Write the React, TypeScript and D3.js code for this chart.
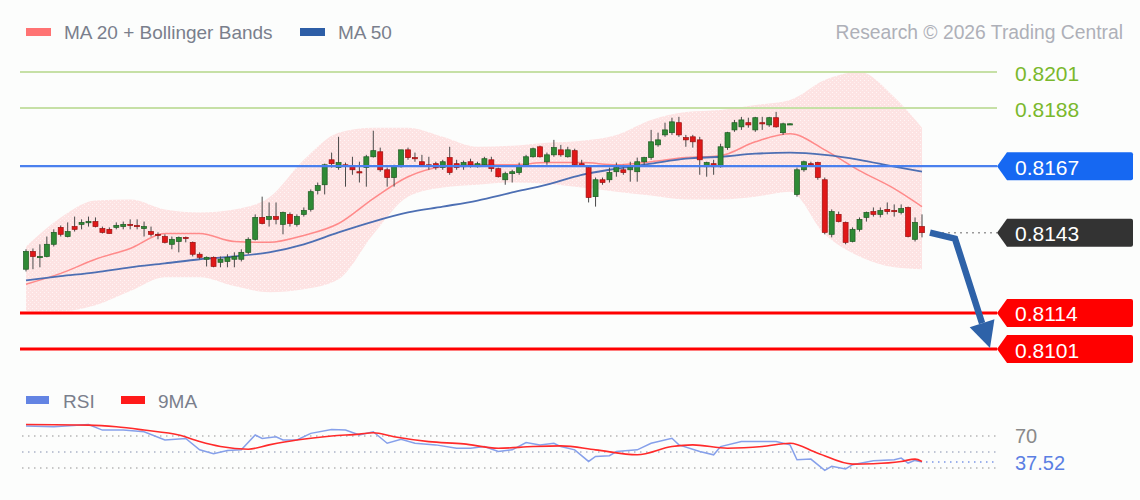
import React from 'react';
import * as d3 from 'd3';

const W = 1140;
const H = 500;

// ---- candle data (index = bar number) ----
const opens = [
  0.81298,0.81362,0.81341,0.81344,0.81388,0.81449,0.81416,0.81452,0.81460,0.81467,
  0.81470,0.81445,0.81442,0.81449,0.81452,0.81460,0.81456,0.81445,0.81434,0.81424,
  0.81416,0.81388,0.81398,0.81413,0.81395,0.81352,0.81334,0.81341,0.81323,0.81326,
  0.81334,0.81334,0.81359,0.81406,0.81485,0.81478,0.81488,0.81460,0.81496,0.81460,
  0.81496,0.81514,0.81582,0.81603,0.81693,0.81665,0.81675,0.81668,0.81650,0.81665,
  0.81704,0.81722,0.81657,0.81629,0.81668,0.81729,0.81701,0.81686,0.81675,0.81679,
  0.81665,0.81701,0.81679,0.81668,0.81686,0.81668,0.81675,0.81693,0.81661,0.81621,
  0.81643,0.81647,0.81675,0.81704,0.81740,0.81686,0.81711,0.81729,0.81704,0.81726,
  0.81679,0.81665,0.81560,0.81621,0.81621,0.81650,0.81657,0.81657,0.81650,0.81686,
  0.81701,0.81747,0.81783,0.81791,0.81827,0.81773,0.81776,0.81765,0.81668,0.81679,
  0.81668,0.81737,0.81801,0.81812,0.81827,0.81801,0.81827,0.81819,0.81845,0.81791,
  0.81823,0.81568,0.81657,0.81679,0.81683,0.81621,0.81424,0.81496,0.81467,0.81398,
  0.81442,0.81485,0.81506,0.81496,0.81514,0.81510,0.81503,0.81521,0.81406,0.81452,
];
const highs = [
  0.81370,0.81373,0.81388,0.81416,0.81442,0.81456,0.81467,0.81488,0.81478,0.81488,
  0.81485,0.81452,0.81449,0.81467,0.81470,0.81478,0.81478,0.81470,0.81452,0.81431,
  0.81424,0.81416,0.81416,0.81416,0.81398,0.81359,0.81344,0.81344,0.81344,0.81352,
  0.81359,0.81370,0.81413,0.81496,0.81560,0.81539,0.81539,0.81506,0.81503,0.81496,
  0.81521,0.81586,0.81611,0.81679,0.81719,0.81776,0.81683,0.81704,0.81686,0.81711,
  0.81798,0.81737,0.81665,0.81675,0.81729,0.81737,0.81719,0.81711,0.81704,0.81686,
  0.81693,0.81740,0.81693,0.81690,0.81697,0.81686,0.81704,0.81704,0.81665,0.81650,
  0.81657,0.81683,0.81711,0.81737,0.81744,0.81719,0.81765,0.81747,0.81740,0.81733,
  0.81693,0.81668,0.81629,0.81629,0.81665,0.81683,0.81675,0.81686,0.81701,0.81704,
  0.81801,0.81791,0.81827,0.81845,0.81848,0.81783,0.81783,0.81776,0.81686,0.81693,
  0.81751,0.81794,0.81837,0.81848,0.81845,0.81848,0.81848,0.81848,0.81866,0.81827,
  0.81825,0.81665,0.81690,0.81686,0.81686,0.81629,0.81514,0.81506,0.81470,0.81449,
  0.81485,0.81506,0.81521,0.81521,0.81539,0.81532,0.81532,0.81524,0.81485,0.81496,
];
const lows = [
  0.81290,0.81298,0.81305,0.81341,0.81380,0.81416,0.81413,0.81434,0.81442,0.81452,
  0.81449,0.81427,0.81427,0.81442,0.81442,0.81442,0.81442,0.81416,0.81416,0.81406,
  0.81391,0.81370,0.81359,0.81395,0.81344,0.81334,0.81308,0.81305,0.81305,0.81305,
  0.81305,0.81326,0.81352,0.81402,0.81460,0.81452,0.81460,0.81424,0.81452,0.81452,
  0.81488,0.81506,0.81568,0.81568,0.81665,0.81657,0.81596,0.81639,0.81611,0.81596,
  0.81701,0.81650,0.81596,0.81596,0.81665,0.81693,0.81686,0.81668,0.81657,0.81657,
  0.81657,0.81639,0.81657,0.81657,0.81665,0.81665,0.81668,0.81650,0.81629,0.81603,
  0.81611,0.81639,0.81668,0.81701,0.81701,0.81675,0.81704,0.81704,0.81701,0.81668,
  0.81668,0.81539,0.81524,0.81603,0.81611,0.81632,0.81639,0.81614,0.81614,0.81675,
  0.81693,0.81740,0.81776,0.81783,0.81776,0.81740,0.81737,0.81639,0.81632,0.81639,
  0.81665,0.81729,0.81794,0.81801,0.81809,0.81794,0.81801,0.81812,0.81809,0.81783,
  0.81821,0.81560,0.81650,0.81668,0.81621,0.81424,0.81413,0.81467,0.81388,0.81395,
  0.81434,0.81470,0.81488,0.81485,0.81496,0.81488,0.81496,0.81413,0.81398,0.81413,
];
const closes = [
  0.81362,0.81344,0.81344,0.81388,0.81431,0.81424,0.81434,0.81442,0.81467,0.81470,
  0.81452,0.81431,0.81427,0.81456,0.81460,0.81458,0.81455,0.81452,0.81424,0.81422,
  0.81395,0.81406,0.81413,0.81411,0.81352,0.81341,0.81341,0.81308,0.81334,0.81341,
  0.81344,0.81359,0.81406,0.81485,0.81463,0.81488,0.81478,0.81503,0.81463,0.81488,
  0.81510,0.81578,0.81600,0.81675,0.81679,0.81683,0.81672,0.81657,0.81648,0.81704,
  0.81726,0.81657,0.81629,0.81668,0.81729,0.81701,0.81699,0.81675,0.81673,0.81665,
  0.81686,0.81647,0.81665,0.81683,0.81675,0.81679,0.81697,0.81661,0.81632,0.81643,
  0.81650,0.81668,0.81704,0.81733,0.81704,0.81711,0.81737,0.81711,0.81729,0.81675,
  0.81672,0.81557,0.81621,0.81611,0.81647,0.81665,0.81647,0.81665,0.81686,0.81701,
  0.81758,0.81765,0.81801,0.81830,0.81783,0.81765,0.81758,0.81693,0.81683,0.81668,
  0.81740,0.81791,0.81827,0.81837,0.81819,0.81845,0.81823,0.81845,0.81812,0.81823,
  0.81823,0.81657,0.81686,0.81677,0.81629,0.81431,0.81506,0.81470,0.81395,0.81442,
  0.81478,0.81503,0.81496,0.81510,0.81506,0.81508,0.81517,0.81416,0.81467,0.81430,
];

// ---- indicator samples (bar index -> value) ----
const bandIdx = [0,5,10,15,20,25,30,35,40,45,50,55,60,65,70,75,80,85,90,95,100,105,110,115,120,125,129];
const ma20Vals = [0.81244,0.81283,0.81334,0.81373,0.81427,0.81427,0.81398,0.81395,0.81420,0.81463,0.81553,0.81632,0.81668,0.81675,0.81675,0.81683,0.81683,0.81675,0.81686,0.81701,0.81708,0.81758,0.81787,0.81729,0.81654,0.81589,0.81524];
const ma50Vals = [0.81258,0.81273,0.81287,0.81305,0.81319,0.81334,0.81344,0.81359,0.81388,0.81431,0.81470,0.81503,0.81524,0.81546,0.81575,0.81603,0.81639,0.81661,0.81679,0.81697,0.81704,0.81715,0.81719,0.81711,0.81693,0.81668,0.81650];
const upperVals = [0.81380,0.81485,0.81546,0.81550,0.81514,0.81503,0.81514,0.81557,0.81693,0.81791,0.81809,0.81809,0.81776,0.81740,0.81744,0.81755,0.81762,0.81783,0.81837,0.81866,0.81873,0.81891,0.81909,0.81981,0.82010,0.81920,0.81809];
const lowerVals = [0.81147,0.81147,0.81168,0.81219,0.81269,0.81269,0.81237,0.81215,0.81226,0.81262,0.81424,0.81560,0.81593,0.81603,0.81611,0.81607,0.81593,0.81578,0.81564,0.81550,0.81550,0.81560,0.81578,0.81424,0.81344,0.81305,0.81298];

const rsiIdx = [0,4,9,11,14,17,20,23,25,27,29,31,33,34,36,37,39,41,44,46,48,50,52,54,56,59,62,64,66,68,70,72,74,76,77,79,81,82,84,85,88,90,93,94,97,99,100,103,105,108,110,111,113,115,116,118,119,122,125,126,127,128,129];
const rsiVals = [82.4,81.5,84.4,77.4,77.4,75.3,65,67,52.7,47.7,51.8,52.7,71.2,67,69,65,65,73.3,78.2,77.4,71.2,75.3,60.9,65.9,60.9,58.9,54.7,54.7,56.8,50.6,52.7,61.8,58.9,60.9,56.8,52.7,38.2,44.4,45.3,50.6,52.7,60.9,67.1,58.9,50.6,46.5,56.8,63,63,63,58.9,40.3,41.1,27.1,32.1,28.8,34.1,39.1,40.3,42.4,36.2,39.5,37.52];
const ma9Idx = [0,9,13,17,22,25,28,32,35,39,44,48,50,53,58,63,68,73,77,82,88,93,96,101,106,110,114,119,122,126,128,129];
const ma9Vals = [84.4,83.6,81.5,77.4,71.2,63,56.8,53.5,58.9,65,70,72.4,74.1,69.1,63,60.1,54.7,56.8,57.6,52.7,46.5,56.8,58.9,54.7,56.8,60.9,48.5,34.9,35.4,38.2,41.1,38.2];

// ---- key levels ----
const resistLevels = [0.8201, 0.8188];
const pivotLevel = 0.8167;
const lastPrice = 0.8143;
const supportLevels = [0.8114, 0.8101];
const rsiGuides = [70, 50, 30];
const rsiLast = 37.52;

const FONT = '"Liberation Sans", Arial, Helvetica, sans-serif';

function LabelBox({ tip, cy, right, fill, text }: { tip: number; cy: number; right: number; fill: string; text: string }) {
  const h = 14;
  const d = `M${tip},${cy} L${tip + 10},${cy - h} L${right - 2},${cy - h} Q${right},${cy - h} ${right},${cy - h + 2} L${right},${cy + h - 2} Q${right},${cy + h} ${right - 2},${cy + h} L${tip + 10},${cy + h} Z`;
  return (
    <g>
      <path d={d} fill={fill} />
      <text x={tip + 18} y={cy + 1} fill="#fff" fontSize={21} fontFamily={FONT} dominantBaseline="central">{text}</text>
    </g>
  );
}

export default function App() {
  const n = closes.length;
  const x = d3.scaleLinear().domain([0, n - 1]).range([26, 922]);
  const y = d3.scaleLinear().domain([0.8101, 0.8201]).range([349, 72]);
  const ry = d3.scaleLinear().domain([30, 70]).range([468, 436]);

  const bandArea = d3.area<number>()
    .x((_, i) => x(bandIdx[i]))
    .y0((_, i) => y(lowerVals[i]))
    .y1((_, i) => y(upperVals[i]))
    .curve(d3.curveMonotoneX);
  const lineOf = (vals: number[]) => d3.line<number>()
    .x((_, i) => x(bandIdx[i]))
    .y((v) => y(v))
    .curve(d3.curveMonotoneX)(vals) as string;

  const rsiPath = d3.line<number>().x((_, i) => x(rsiIdx[i])).y((v) => ry(v))(rsiVals) as string;
  const ma9Path = d3.line<number>().x((_, i) => x(ma9Idx[i])).y((v) => ry(v)).curve(d3.curveMonotoneX)(ma9Vals) as string;

  const lineStart = 20;
  const tipX = 997;
  const boxRight = 1133;

  const lastX = x(n - 1);
  const lastY = y(closes[n - 1]);
  const aStart: [number, number] = [lastX + 8, lastY];
  const aMid: [number, number] = [lastX + 33, lastY + 6];
  const aTip: [number, number] = [lastX + 68, y(supportLevels[1]) - 1];
  const dx = aTip[0] - aMid[0];
  const dy = aTip[1] - aMid[1];
  const len = Math.hypot(dx, dy);
  const ux = dx / len, uy = dy / len;
  const headL = 26, headW = 13;
  const bx = aTip[0] - ux * headL, by = aTip[1] - uy * headL;
  const head = `M${aTip[0]},${aTip[1]} L${bx + uy * headW},${by - ux * headW} L${bx - uy * headW},${by + ux * headW} Z`;

  const rsiEndX = x(rsiIdx[rsiIdx.length - 1]);

  return (
    <svg width={W} height={H} style={{ position: 'absolute', left: 0, top: 0, background: '#fcfdfc' }}>
      <defs>
        <pattern id="bbdots" width="4" height="4" patternUnits="userSpaceOnUse">
          <rect width="4" height="4" fill="#fde3e3" />
          <rect x="0" y="0" width="1" height="1" fill="#fff6f6" />
          <rect x="2" y="2" width="1" height="1" fill="#fff0f0" />
        </pattern>
      </defs>
      <rect width={W} height={H} fill="#fcfdfc" />

      {/* legend */}
      <rect x={26} y={28} width={25} height={8} fill="#ff7373" />
      <text x={64} y={32} fontSize={19} fontFamily={FONT} fill="#7a7f8c" dominantBaseline="central">MA 20 + Bollinger Bands</text>
      <rect x={300} y={28} width={25} height={8} fill="#2d5ea6" />
      <text x={338} y={32} fontSize={19} fontFamily={FONT} fill="#7a7f8c" dominantBaseline="central">MA 50</text>
      <text x={1123} y={32} fontSize={19.3} fontFamily={FONT} fill="#aeb0b8" textAnchor="end" dominantBaseline="central">Research © 2026 Trading Central</text>

      {/* bollinger band */}
      <path d={bandArea(upperVals) as string} fill="url(#bbdots)" />

      {/* resistance lines */}
      {resistLevels.map((lv) => (
        <g key={lv}>
          <line x1={lineStart} x2={tipX} y1={y(lv)} y2={y(lv)} stroke="#c6e0a6" strokeWidth={2} />
          <text x={1015} y={y(lv) + 1} fontSize={21} fontFamily={FONT} fill="#7ab82c" dominantBaseline="central">{lv.toFixed(4)}</text>
        </g>
      ))}

      {/* moving averages */}
      <path d={lineOf(ma20Vals)} fill="none" stroke="#ff8a8a" strokeWidth={1.5} />
      <path d={lineOf(ma50Vals)} fill="none" stroke="#4d6fb3" strokeWidth={1.8} />

      {/* candles */}
      {closes.map((c, i) => {
        const o = opens[i];
        const up = c >= o;
        const cx = x(i);
        const top = y(Math.max(o, c));
        const bot = y(Math.min(o, c));
        const fill = up ? '#2f8a35' : '#e01818';
        const edge = up ? '#1d5a22' : '#9a1010';
        return (
          <g key={i}>
            <line x1={cx} x2={cx} y1={y(highs[i])} y2={y(lows[i])} stroke="#4a4a4a" strokeWidth={1} />
            <rect x={cx - 2.5} y={top} width={5} height={Math.max(1.2, bot - top)} fill={fill} stroke={edge} strokeWidth={0.7} />
          </g>
        );
      })}

      {/* pivot line */}
      <line x1={lineStart} x2={tipX} y1={y(pivotLevel)} y2={y(pivotLevel)} stroke="#4a80ee" strokeWidth={2.2} />
      <LabelBox tip={tipX} cy={y(pivotLevel)} right={boxRight} fill="#1668f2" text={pivotLevel.toFixed(4)} />

      {/* last price */}
      <line x1={lastX + 20} x2={tipX} y1={y(lastPrice)} y2={y(lastPrice)} stroke="#9a9a9a" strokeWidth={1.5} strokeDasharray="2 4" />
      <LabelBox tip={tipX} cy={y(lastPrice)} right={boxRight} fill="#333333" text={lastPrice.toFixed(4)} />

      {/* support lines */}
      {supportLevels.map((lv) => (
        <g key={lv}>
          <line x1={lineStart} x2={tipX} y1={y(lv)} y2={y(lv)} stroke="#ff0000" strokeWidth={3} />
          <LabelBox tip={tipX} cy={y(lv)} right={boxRight} fill="#ff0000" text={lv.toFixed(4)} />
        </g>
      ))}

      {/* forecast arrow */}
      <polyline points={`${aStart[0]},${aStart[1]} ${aMid[0]},${aMid[1]} ${bx},${by}`} fill="none" stroke="#2e62a8" strokeWidth={6.5} strokeLinejoin="miter" />
      <path d={head} fill="#2e62a8" />

      {/* RSI panel */}
      <rect x={26} y={396} width={23} height={8} fill="#6384e3" />
      <text x={63} y={401} fontSize={19} fontFamily={FONT} fill="#7a7f8c" dominantBaseline="central">RSI</text>
      <rect x={121} y={396} width={24} height={8} fill="#ff1a1a" />
      <text x={158} y={401} fontSize={19} fontFamily={FONT} fill="#7a7f8c" dominantBaseline="central">9MA</text>

      {rsiGuides.map((g) => (
        <line key={g} x1={22} x2={tipX} y1={ry(g)} y2={ry(g)} stroke={g === 50 ? '#aab3c8' : '#b5b5b5'} strokeWidth={1.5} strokeDasharray="1.5 4.5" />
      ))}
      <line x1={rsiEndX + 4} x2={tipX} y1={ry(rsiLast)} y2={ry(rsiLast)} stroke="#7b97e6" strokeWidth={1.5} strokeDasharray="1.5 4.5" />

      <path d={rsiPath} fill="none" stroke="#86a0ea" strokeWidth={1.5} />
      <path d={ma9Path} fill="none" stroke="#ff2a2a" strokeWidth={1.6} />

      <text x={1015} y={ry(70)} fontSize={20} fontFamily={FONT} fill="#8a8a8a" dominantBaseline="central">70</text>
      <text x={1015} y={ry(rsiLast) + 1} fontSize={20} fontFamily={FONT} fill="#5b7fe3" dominantBaseline="central">{rsiLast.toFixed(2)}</text>
    </svg>
  );
}
